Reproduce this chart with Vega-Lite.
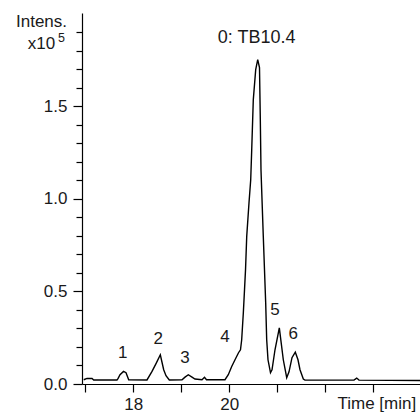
{
  "$schema": "https://vega.github.io/schema/vega-lite/v6.json",
  "autosize": {"type": "none"},
  "padding": {"left": 82, "top": 13, "right": 0, "bottom": 28},
  "width": 338,
  "height": 371,
  "background": "white",
  "title": {
    "text": "5",
    "anchor": "start",
    "frame": "group",
    "orient": "top",
    "offset": 0,
    "dx": -24,
    "dy": 42,
    "baseline": "alphabetic",
    "font": "Liberation Sans",
    "fontSize": 12.5,
    "fontWeight": "normal",
    "color": "#1a1a1a"
  },
  "config": {
    "view": {"stroke": null},
    "font": "Liberation Sans",
    "axis": {
      "domainColor": "#000",
      "domainWidth": 1.2,
      "tickColor": "#000",
      "tickWidth": 1.2,
      "labelColor": "#1a1a1a",
      "titleColor": "#1a1a1a",
      "labelFont": "Liberation Sans",
      "titleFont": "Liberation Sans",
      "labelFontSize": 17,
      "titleFontSize": 17,
      "titleFontWeight": "normal",
      "grid": false,
      "labelOverlap": false
    }
  },
  "datasets": {
    "trace": [
      {"t": 16.967, "i": 0.023},
      {"t": 17.035, "i": 0.030},
      {"t": 17.140, "i": 0.030},
      {"t": 17.175, "i": 0.022},
      {"t": 17.660, "i": 0.022},
      {"t": 17.681, "i": 0.029},
      {"t": 17.723, "i": 0.050},
      {"t": 17.796, "i": 0.068},
      {"t": 17.848, "i": 0.061},
      {"t": 17.904, "i": 0.023},
      {"t": 18.285, "i": 0.022},
      {"t": 18.390, "i": 0.068},
      {"t": 18.473, "i": 0.110},
      {"t": 18.563, "i": 0.158},
      {"t": 18.633, "i": 0.077},
      {"t": 18.681, "i": 0.045},
      {"t": 18.750, "i": 0.022},
      {"t": 19.015, "i": 0.023},
      {"t": 19.077, "i": 0.037},
      {"t": 19.146, "i": 0.050},
      {"t": 19.223, "i": 0.037},
      {"t": 19.285, "i": 0.027},
      {"t": 19.431, "i": 0.023},
      {"t": 19.483, "i": 0.036},
      {"t": 19.525, "i": 0.023},
      {"t": 19.910, "i": 0.023},
      {"t": 19.979, "i": 0.050},
      {"t": 20.050, "i": 0.095},
      {"t": 20.119, "i": 0.131},
      {"t": 20.192, "i": 0.169},
      {"t": 20.233, "i": 0.185},
      {"t": 20.258, "i": 0.239},
      {"t": 20.292, "i": 0.384},
      {"t": 20.317, "i": 0.510},
      {"t": 20.338, "i": 0.618},
      {"t": 20.363, "i": 0.798},
      {"t": 20.410, "i": 0.978},
      {"t": 20.446, "i": 1.104},
      {"t": 20.467, "i": 1.266},
      {"t": 20.500, "i": 1.537},
      {"t": 20.550, "i": 1.699},
      {"t": 20.592, "i": 1.753},
      {"t": 20.629, "i": 1.710},
      {"t": 20.646, "i": 1.429},
      {"t": 20.660, "i": 1.158},
      {"t": 20.708, "i": 0.798},
      {"t": 20.758, "i": 0.439},
      {"t": 20.779, "i": 0.239},
      {"t": 20.806, "i": 0.131},
      {"t": 20.858, "i": 0.061},
      {"t": 20.890, "i": 0.077},
      {"t": 20.952, "i": 0.185},
      {"t": 21.042, "i": 0.303},
      {"t": 21.125, "i": 0.131},
      {"t": 21.196, "i": 0.034},
      {"t": 21.244, "i": 0.066},
      {"t": 21.306, "i": 0.142},
      {"t": 21.375, "i": 0.172},
      {"t": 21.431, "i": 0.131},
      {"t": 21.473, "i": 0.077},
      {"t": 21.542, "i": 0.027},
      {"t": 21.577, "i": 0.021},
      {"t": 22.598, "i": 0.021},
      {"t": 22.654, "i": 0.032},
      {"t": 22.702, "i": 0.021},
      {"t": 23.973, "i": 0.019}
    ],
    "labels": [
      {"t": 17.779, "i": 0.170, "label": "1"},
      {"t": 18.521, "i": 0.243, "label": "2"},
      {"t": 19.077, "i": 0.138, "label": "3"},
      {"t": 19.910, "i": 0.256, "label": "4"},
      {"t": 20.952, "i": 0.402, "label": "5"},
      {"t": 21.333, "i": 0.268, "label": "6"}
    ],
    "peak": [
      {"t": 20.571, "i": 1.871, "label": "0: TB10.4"}
    ]
  },
  "resolve": {"axis": {"y": "independent"}},
  "layer": [
    {
      "data": {"name": "trace"},
      "mark": {"type": "line", "color": "#000", "strokeWidth": 1.4, "clip": true},
      "encoding": {
        "x": {
          "field": "t", "type": "quantitative",
          "scale": {"domain": [16.931, 23.973], "nice": false, "zero": false},
          "axis": {
            "values": [17, 18, 19, 20, 21, 22, 23],
            "labelExpr": "datum.value == 18 || datum.value == 20 ? datum.label : ''",
            "tickSize": 8,
            "labelPadding": 4,
            "labelFlush": false,
            "labelOverlap": false,
            "title": "Time [min]",
            "titleAlign": "left",
            "titleAnchor": null,
            "titleX": 255,
            "titleY": 24,
            "titleBaseline": "alphabetic"
          }
        },
        "y": {
          "field": "i", "type": "quantitative",
          "scale": {"domain": [0, 2.005], "nice": false},
          "axis": {
            "orient": "left",
            "values": [0, 0.5, 1.0, 1.5],
            "format": ".1f",
            "tickSize": 9,
            "labelPadding": 6,
            "labelFlush": false,
            "title": ["Intens.", "x10"],
            "titleAngle": 0,
            "titleAlign": "center",
            "titleAnchor": null,
            "titleX": -41,
            "titleY": 13.5,
            "titleBaseline": "alphabetic",
            "titleLineHeight": 22
          }
        }
      }
    },
    {
      "data": {"name": "labels"},
      "mark": {"type": "text", "fontSize": 17, "font": "Liberation Sans", "color": "#1a1a1a", "align": "center", "baseline": "middle"},
      "encoding": {
        "x": {"field": "t", "type": "quantitative"},
        "y": {
          "field": "i", "type": "quantitative",
          "axis": {
            "orient": "left",
            "values": [0.1, 0.2, 0.3, 0.4, 0.6, 0.7, 0.8, 0.9, 1.1, 1.2, 1.3, 1.4, 1.6, 1.7, 1.8, 1.9],
            "labels": false,
            "domain": false,
            "tickSize": 6,
            "title": null
          }
        },
        "text": {"field": "label"}
      }
    },
    {
      "data": {"name": "peak"},
      "mark": {"type": "text", "fontSize": 18, "font": "Liberation Sans", "color": "#1a1a1a", "align": "center", "baseline": "middle"},
      "encoding": {
        "x": {"field": "t", "type": "quantitative"},
        "y": {"field": "i", "type": "quantitative", "axis": null},
        "text": {"field": "label"}
      }
    },
    {
      "mark": {"type": "rule", "color": "#000", "strokeWidth": 1.2},
      "encoding": {"y": {"datum": 2.005, "axis": null}}
    }
  ]
}
